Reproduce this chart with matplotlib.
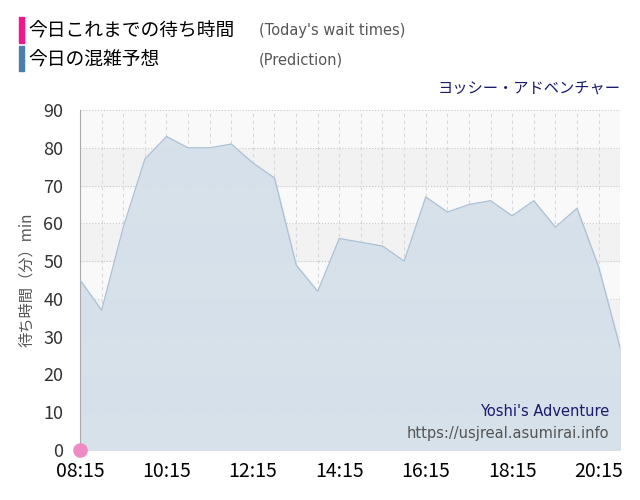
import matplotlib.pyplot as plt
import numpy as np

plt.rcParams['font.family'] = ['Noto Sans CJK JP', 'DejaVu Sans']

# half-hour slots from 08:15 to 20:45
slots = np.arange(26)
tick_labels = ['08:15', '10:15', '12:15', '14:15', '16:15', '18:15', '20:15']
prediction = [45, 37, 59, 77, 83, 80, 80, 81, 76, 72, 49, 42, 56, 55, 54, 50,
              67, 63, 65, 66, 62, 66, 59, 64, 48.5, 27]
today_x = [0]
today_y = [0]

fig = plt.figure(figsize=(6.4, 5), dpi=100)
ax = fig.add_axes([0.125, 0.1, 0.844, 0.68])

for lo in range(0, 90, 10):
    ax.axhspan(lo, lo + 10, color='#f2f2f2' if (lo // 10) % 2 == 1 else '#f9f9f9', zorder=0)
for y in range(0, 91, 10):
    ax.axhline(y, color='#c8c8c8', lw=0.8, ls=':', zorder=1)
for x in slots:
    ax.axvline(x, color='#d8d8d8', lw=0.8, ls=(0, (3, 3)), zorder=1)

ax.fill_between(slots, prediction, 0, color='#d5e0ea', alpha=0.95, zorder=2)
ax.plot(slots, prediction, color='#a9bfd2', lw=0.8, zorder=3)
ax.scatter(today_x, today_y, s=90, color='#f08ac4', zorder=5, clip_on=False)

ax.set_xlim(0, 25)
ax.set_ylim(0, 90)
ax.set_yticks(range(0, 91, 10))
ax.set_xticks(range(0, 25, 4))
ax.set_xticklabels(tick_labels)
ax.tick_params(axis='y', labelsize=13, length=0, colors='#333333', pad=12)
ax.tick_params(axis='x', labelsize=14, length=0, labelcolor='black', pad=8)
for s in ['top', 'right', 'bottom']:
    ax.spines[s].set_visible(False)
ax.spines['left'].set_color('#aaaaaa')
ax.set_ylabel('待ち時間（分）min', fontsize=11, color='#555555', labelpad=6)

ax.text(0.98, 0.1, "Yoshi's Adventure", transform=ax.transAxes, ha='right',
        fontsize=10.5, color='#1a1a6e', family='DejaVu Sans')
ax.text(0.98, 0.035, 'https://usjreal.asumirai.info', transform=ax.transAxes, ha='right',
        fontsize=10.5, color='#555555', family='DejaVu Sans')

fig.text(0.97, 0.815, 'ヨッシー・アドベンチャー', ha='right', fontsize=11, color='#1a1a6e')
fig.patches.append(plt.Rectangle((0.03, 0.915), 0.007, 0.05, transform=fig.transFigure, color='#f0168c'))
fig.patches.append(plt.Rectangle((0.03, 0.858), 0.007, 0.05, transform=fig.transFigure, color='#4a7fb0'))
fig.text(0.045, 0.938, '今日これまでの待ち時間', fontsize=13.5, va='center')
fig.text(0.045, 0.88, '今日の混雑予想', fontsize=13.5, va='center')
fig.text(0.405, 0.938, "(Today's wait times)", fontsize=10.5, va='center', color='#555555', family='DejaVu Sans')
fig.text(0.405, 0.88, '(Prediction)', fontsize=10.5, va='center', color='#555555', family='DejaVu Sans')

fig.savefig('out.png')
